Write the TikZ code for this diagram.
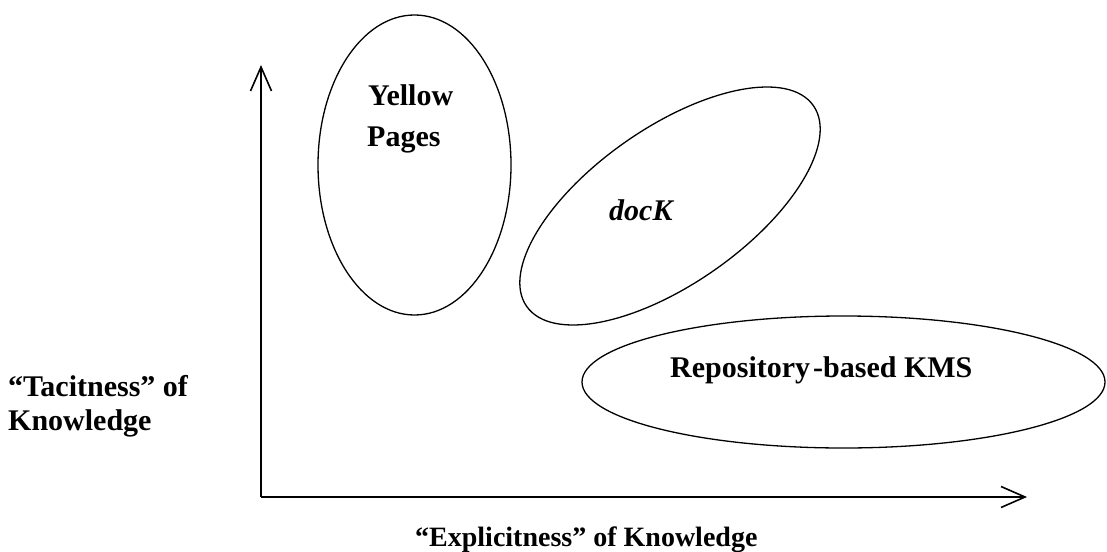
\documentclass[tikz,border=0pt]{standalone}
\usepackage{fontspec}
\setmainfont{Liberation Serif}
\usetikzlibrary{shapes.geometric,arrows.meta}
\begin{document}
\begin{tikzpicture}[x=1pt,y=-1pt,
  axis/.style={line width=1.6pt,-{Straight Barb[length=24pt,width=21pt,line width=1.6pt]}},
  oval/.style={draw,ellipse,line width=1.3pt,inner sep=0pt},
  lbl/.style={font=\fontsize{30}{35}\selectfont\bfseries,inner sep=0pt},
  axlbl/.style={font=\fontsize{30}{35}\selectfont\bfseries,inner sep=0pt,align=left}]
\useasboundingbox (0,0) rectangle (1107,551);
% axes
\coordinate (origin) at (261,497);
\coordinate (ytip) at (261,65);
\coordinate (xtip) at (1027,497);
\draw[axis] (origin) -- (ytip);
\draw[axis] (origin) -- (xtip);
% ellipses
\node[oval,minimum width=193pt,minimum height=300pt] (yp) at (414.5,165) {};
\node[oval,minimum width=350pt,minimum height=156pt,rotate=35] (dk) at (670,206) {};
\node[oval,minimum width=523pt,minimum height=132pt] (rep) at (843.5,382) {};
% labels
\node[lbl,anchor=base west] (yellow) at (368,105) {Yellow};
\node[lbl,anchor=base west] (pages) at (367,146) {Pages};
\node[lbl,anchor=base west] (dock) at (609,220) {\itshape docK};
\node[lbl,anchor=base west] (repo) at (670,377) {Repository\kern3pt-based KMS};
\node[axlbl,anchor=base west] (tac1) at (8,396) {“Tacitness” of};
\node[axlbl,anchor=base west] (tac2) at (8,430) {Knowledge};
\node[axlbl,anchor=base west,font=\fontsize{28}{33}\selectfont\bfseries] (expl) at (415,546) {“Explicitness” of Knowledge};
\end{tikzpicture}
\end{document}
